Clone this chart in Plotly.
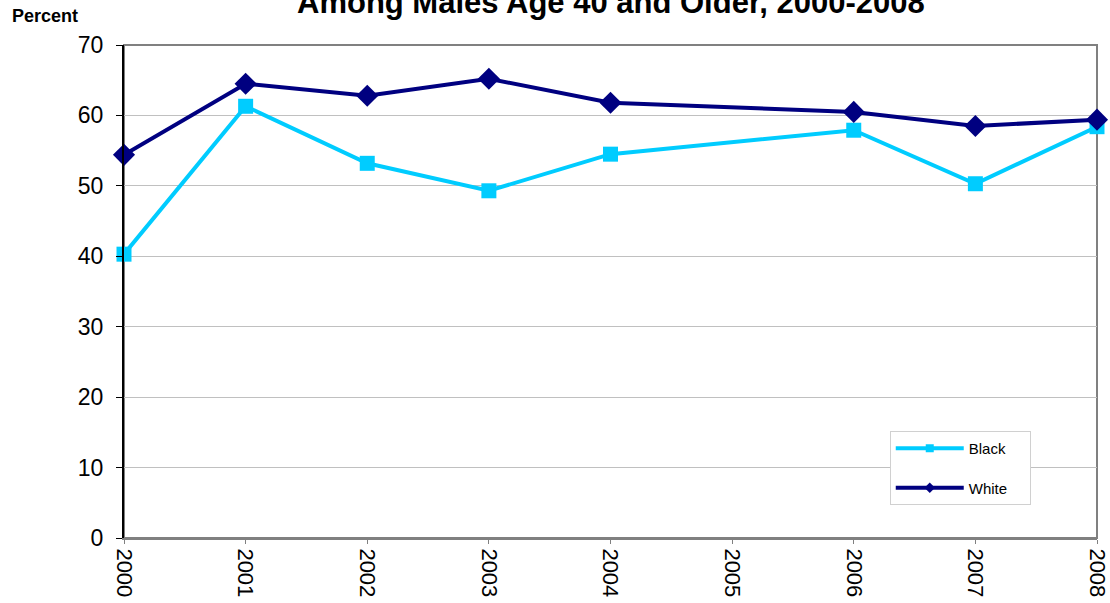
import plotly.graph_objects as go

years = [2000, 2001, 2002, 2003, 2004, 2005, 2006, 2007, 2008]
black = [40.3, 61.3, 53.2, 49.3, 54.5, None, 57.9, 50.3, 58.4]
white = [54.4, 64.5, 62.8, 65.2, 61.8, None, 60.5, 58.5, 59.4]
y_ticks = [0, 10, 20, 30, 40, 50, 60, 70]
pad = "\u00a0" * 4

BLACK_C = "#00CCFF"
WHITE_C = "#000080"

fig = go.Figure()
fig.add_trace(go.Scatter(
    x=years, y=black, name="Black", mode="lines+markers", connectgaps=True,
    line=dict(color=BLACK_C, width=4),
    marker=dict(symbol="square", size=15, color=BLACK_C),
    cliponaxis=False, showlegend=False))
fig.add_trace(go.Scatter(
    x=years, y=white, name="White", mode="lines+markers", connectgaps=True,
    line=dict(color=WHITE_C, width=4),
    marker=dict(symbol="diamond", size=17, color=WHITE_C),
    cliponaxis=False, showlegend=False))
# legend entries (smaller legend symbols, as in the reference)
fig.add_trace(go.Scatter(
    x=[None], y=[None], name="Black" + pad, mode="lines+markers",
    line=dict(color=BLACK_C, width=4),
    marker=dict(symbol="square", size=8, color=BLACK_C), legendgroup="b"))
fig.add_trace(go.Scatter(
    x=[None], y=[None], name="White" + pad, mode="lines+markers",
    line=dict(color=WHITE_C, width=4),
    marker=dict(symbol="diamond", size=8, color=WHITE_C), legendgroup="w"))

fig.update_layout(
    width=1110, height=603,
    margin=dict(l=124, r=13, t=45, b=65, autoexpand=False),
    paper_bgcolor="white", plot_bgcolor="white",
    font=dict(family="Liberation Sans, Arial, sans-serif", color="black"),
    showlegend=True,
    legend=dict(x=0.787, y=0.217, xanchor="left", yanchor="top",
                bgcolor="white", bordercolor="#D0D0D0", borderwidth=1,
                font=dict(size=15), tracegroupgap=17, traceorder="grouped",
                itemwidth=68),
    xaxis=dict(range=[2000, 2008], tickmode="array", tickvals=years,
               ticktext=[str(y) for y in years], tickangle=90,
               tickfont=dict(size=22), showgrid=False, zeroline=False,
               showline=True, linecolor="#808080", linewidth=2,
               ticks="outside", ticklen=4, tickcolor="#808080"),
    yaxis=dict(range=[0, 70], tickmode="array", tickvals=y_ticks,
               tickfont=dict(size=23), showgrid=True, gridcolor="#C0C0C0",
               gridwidth=1, zeroline=False, showline=True, linecolor="black",
               linewidth=2, ticks="outside", ticklen=6, tickcolor="black",
               ticklabelstandoff=8),
    shapes=[dict(type="rect", xref="paper", yref="paper", x0=0, x1=1, y0=0, y1=1,
                 line=dict(color="#808080", width=2), layer="below")],
    annotations=[
        dict(text="<b>Among Males Age 40 and Older, 2000-2008</b>", xref="paper",
             yref="paper", x=0.5, y=1.087, xanchor="center", yanchor="middle",
             showarrow=False, font=dict(size=31)),
        dict(text="<b>Percent</b>", xref="paper", yref="paper", x=-0.117,
             y=1.059, xanchor="left", yanchor="middle", showarrow=False,
             font=dict(size=18)),
    ],
)

fig.write_html("out.html", config={"displayModeBar": False},
               post_script="document.body.style.margin='0';document.body.style.overflow='hidden';")
